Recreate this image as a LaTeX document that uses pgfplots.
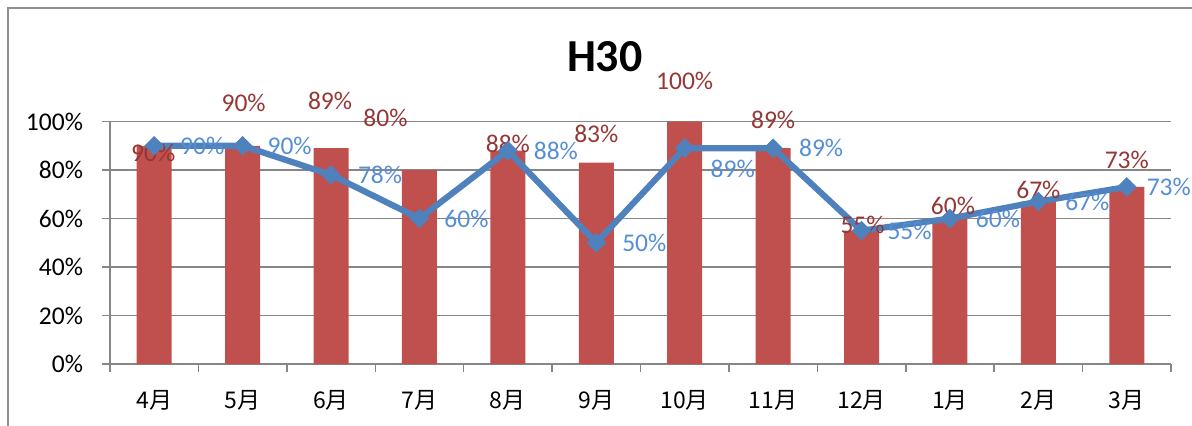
\documentclass[border=0pt]{standalone}
\usepackage{pgfplots}
\pgfplotsset{compat=1.18}
\usepackage{pgfplotstable}
\usepackage{fontspec}
\setmainfont{Carlito}
\newfontfamily\jp{Noto Sans CJK JP}
\definecolor{barred}{HTML}{C0504D}
\definecolor{lineblue}{HTML}{4F81BD}
\definecolor{labred}{HTML}{953735}
\definecolor{labblue}{HTML}{558ED5}
\definecolor{gridgray}{HTML}{868686}
\definecolor{framegray}{HTML}{8E8E8E}

\pgfplotstableread{
x bar line bdx bdy ldx ldy
0 90 90 -1 -7 48 0
1 90 90 1 43 47 0
2 89 78 -1 47 49 0
3 80 60 -34 52 47 0
4 88 88 0 7 48 0
5 83 50 0 29 48 0
6 100 89 0 41 48 -21
7 89 89 0 28 48 0
8 55 55 1 6 48 0
9 60 60 3 13 48 0
10 67 67 0 12 49 0
11 73 73 0 27 42 0
}\data

\begin{document}
\begin{tikzpicture}
\begin{axis}[
  at={(0,0)}, anchor=south west, scale only axis,
  width=636.6pt, height=145.5pt,
  xmin=-0.5, xmax=11.5, ymin=0, ymax=100,
  clip=false,
  /pgf/number format/assume math mode=true,
  axis x line=bottom, axis y line=left,
  axis line style={gridgray, line width=0.9pt, -},
  tick align=outside,
  major tick length=4.8pt,
  tick style={gridgray, line width=0.9pt},
  ytick={0,20,40,60,80,100},
  yticklabel={\pgfmathprintnumber{\tick}\%},
  yticklabel style={anchor=east, inner sep=0pt, xshift=-11.2pt, font=\fontsize{15.3}{18}\selectfont},
  ymajorgrids,
  grid style={gridgray, line width=0.9pt},
  xtick={-0.5,0.5,1.5,2.5,3.5,4.5,5.5,6.5,7.5,8.5,9.5,10.5,11.5},
  xticklabel style={text opacity=0},
  extra x ticks={0,1,2,3,4,5,6,7,8,9,10,11},
  extra x tick labels={4月,5月,6月,7月,8月,9月,10月,11月,12月,1月,2月,3月},
  extra x tick style={major tick length=0pt, xticklabel style={text opacity=1, anchor=center, inner sep=0pt, yshift=-21.9pt, font=\jp\fontsize{13.8}{16}\selectfont}},
  title={H30},
  title style={at={(rel axis cs:0.4663,1)}, anchor=center, yshift=33.1pt, font=\bfseries\fontsize{27.5}{30}\selectfont},
]
\addplot[ybar, bar width=21pt, fill=barred, draw=none,
  nodes near coords={\pgfmathprintnumber{\pgfplotspointmeta}\%},
  visualization depends on={\thisrow{bdx}\as\bdx},
  visualization depends on={\thisrow{bdy}\as\bdy},
  every node near coord/.append style={anchor=center, xshift=\bdx*0.6pt, yshift=\bdy*0.6pt, text=labred, font=\fontsize{15.3}{18}\selectfont}]
  table[x=x, y=bar]{\data};
\addplot[color=lineblue, line width=3.7pt, mark=square*, mark size=3.9pt,
  mark options={rotate=45, solid, line width=0.5pt, fill=lineblue},
  nodes near coords={\pgfmathprintnumber{\pgfplotspointmeta}\%},
  visualization depends on={\thisrow{ldx}\as\ldx},
  visualization depends on={\thisrow{ldy}\as\ldy},
  every node near coord/.append style={anchor=center, rotate=0, xshift=\ldx*0.6pt, yshift=\ldy*0.6pt, text=labblue, font=\fontsize{15.3}{18}\selectfont}]
  table[x=x, y=line]{\data};
\end{axis}
\pgfresetboundingbox
\path[use as bounding box] (-66pt,-36.6pt) rectangle (649.2pt,218.4pt);
\draw[color=framegray, line width=1.2pt] (-61.2pt,-40pt) -- (-61.2pt,213.6pt) -- (655pt,213.6pt);
\end{tikzpicture}
\end{document}
